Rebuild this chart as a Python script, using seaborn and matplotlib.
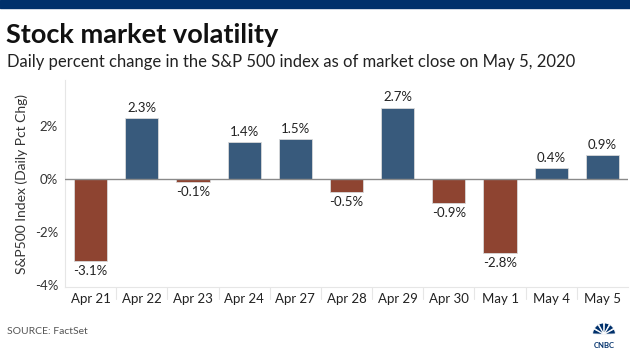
import numpy as np
import pandas as pd
import matplotlib
matplotlib.use('Agg')
import matplotlib.pyplot as plt
from matplotlib.patches import Rectangle, Wedge
import seaborn as sns

DATES = ['Apr 21', 'Apr 22', 'Apr 23', 'Apr 24', 'Apr 27', 'Apr 28',
         'Apr 29', 'Apr 30', 'May 1', 'May 4', 'May 5']
PCT_CHANGE = [-3.1, 2.3, -0.1, 1.4, 1.5, -0.5, 2.7, -0.9, -2.8, 0.4, 0.9]
Y_TICKS = [-4, -2, 0, 2]

BLUE = '#2c5a88'
RED = '#9d3b22'
NAVY = '#00306b'

sns.set_theme(style='white')
plt.rcParams['font.family'] = ['Lato', 'DejaVu Sans']

df = pd.DataFrame({'date': DATES, 'pct': PCT_CHANGE})
df['dir'] = np.where(df['pct'] >= 0, 'up', 'down')

fig = plt.figure(figsize=(6.3, 3.54), dpi=100)
ax = fig.add_axes([65 / 630, 1 - 287 / 354, 563 / 630, 207 / 354])

sns.barplot(data=df, x='date', y='pct', hue='dir', dodge=False,
            palette={'up': BLUE, 'down': RED}, width=0.65,
            edgecolor='#d9d9d9', linewidth=0.6, legend=False, ax=ax)

ax.set_xlim(-0.5, len(DATES) - 0.5)
ax.set_ylim(-4.08, 3.74)
ax.axhline(0, color='#8a8a8a', lw=1, zorder=3)

ax.set_yticks(Y_TICKS)
ax.set_yticklabels([f'{t}%' for t in Y_TICKS], fontsize=9.5, color='#333333')
ax.tick_params(axis='y', length=0, pad=5)
ax.tick_params(axis='x', length=0, pad=4, labelsize=9.5, labelcolor='#222222')

# separators between the date labels
for i in range(len(DATES) - 1):
    ax.plot([i + 0.5, i + 0.5], [-4.08, -4.55], color='#e6e6e6', lw=0.8,
            clip_on=False)

for s in ['top', 'right']:
    ax.spines[s].set_visible(False)
for s in ['left', 'bottom']:
    ax.spines[s].set_color('#e6e6e6')
    ax.spines[s].set_linewidth(0.8)

ax.set_xlabel('')
ax.set_ylabel('S&P500 Index (Daily Pct Chg)', fontsize=10, color='#333333',
              labelpad=5)

for i, v in enumerate(PCT_CHANGE):
    if v >= 0:
        ax.annotate(f'{v}%', (i, v), xytext=(0, 3), textcoords='offset points',
                    ha='center', va='bottom', fontsize=9.5, color='#222222')
    else:
        ax.annotate(f'{v}%', (i, v), xytext=(0, -3), textcoords='offset points',
                    ha='center', va='top', fontsize=9.5, color='#222222')

# header bar and titles
fig.patches.append(Rectangle((0, 1 - 8 / 354), 1, 8 / 354, transform=fig.transFigure,
                             color=NAVY, zorder=0))
fig.text(6 / 630, 1 - 35 / 354, 'Stock market volatility', fontsize=19.5,
         fontweight='bold', color='#111111', va='center')
fig.text(7 / 630, 1 - 62 / 354,
         'Daily percent change in the S&P 500 index as of market close on May 5, 2020',
         fontsize=12, color='#222222', va='center')
fig.text(7 / 630, 1 - 332 / 354, 'SOURCE: FactSet', fontsize=7.5, color='#555555',
         va='center')

# simple peacock mark
lax = fig.add_axes([592 / 630, 1 - 342 / 354, 24 / 630, 24 / 354])
lax.set_xlim(-1.1, 1.1)
lax.set_ylim(-0.3, 1.1)
lax.set_aspect('equal')
lax.axis('off')
for k in range(6):
    a0 = 180 - k * 30
    lax.add_patch(Wedge((0, 0), 1.05, a0 - 28, a0 - 2, facecolor=NAVY,
                        edgecolor='white', linewidth=0.7))
fig.text(604 / 630, 1 - 346 / 354, 'CNBC', fontsize=5.5, fontweight='bold',
         color=NAVY, ha='center', va='center')

fig.savefig('out.png', dpi=100)
